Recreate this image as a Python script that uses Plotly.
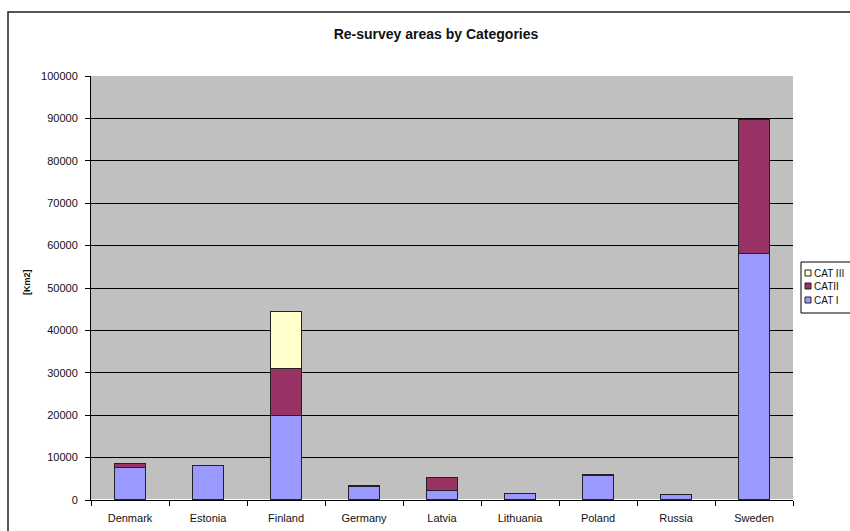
import plotly.graph_objects as go

countries = ["Denmark", "Estonia", "Finland", "Germany", "Latvia", "Lithuania", "Poland", "Russia", "Sweden"]
cat1 = [7600, 8200, 19900, 3300, 2200, 1600, 5900, 1250, 58200]
cat2 = [1100, 0, 11200, 0, 3100, 0, 0, 0, 31600]
cat3 = [0, 0, 13450, 0, 0, 0, 0, 0, 0]
series_names = ["CAT I", "CATII", "CAT III"]
y_ticks = list(range(0, 100001, 10000))

colors = ["#9999FF", "#993366", "#FFFFCC"]
W, H = 850, 531
L, R, T, B = 91, 57, 76, 31
PW, PH = W - L - R, H - T - B


def px(x):
    return (x - L) / PW


def py(y):
    return (H - B - y) / PH


fig = go.Figure()
for name, vals, col in zip(series_names, [cat1, cat2, cat3], colors):
    fig.add_trace(go.Bar(
        x=countries, y=vals, name=name, width=0.4,
        marker=dict(color=col, line=dict(color="#222222", width=1.2)),
    ))

fig.update_layout(
    barmode="stack",
    width=W, height=H,
    margin=dict(l=L, r=R, t=T, b=B),
    paper_bgcolor="white",
    plot_bgcolor="#C0C0C0",
    font=dict(family="Liberation Sans, Arial, sans-serif", size=11, color="#111111"),
    title=dict(text="<b>Re-survey areas by Categories</b>", x=px(436), xanchor="center",
               xref="paper", y=1 - 34 / H, yanchor="middle", yref="container",
               font=dict(size=14, color="#111111")),
    showlegend=False,
)
fig.update_xaxes(
    showline=True, linecolor="black", linewidth=1,
    ticks="outside", tickson="boundaries", ticklen=5, tickcolor="black",
    ticklabelstandoff=8,
    showgrid=False, automargin=False,
)
fig.update_yaxes(
    range=[0, 100000], tickvals=y_ticks, ticktext=[str(v) for v in y_ticks],
    showline=True, linecolor="black", linewidth=1,
    ticks="outside", ticklen=5, tickcolor="black", ticklabelstandoff=5,
    showgrid=True, gridcolor="black", gridwidth=1, automargin=False,
)
fig.add_annotation(text="<b>[Km2]</b>", xref="paper", yref="paper",
                   x=px(27), y=py(282), textangle=-90, showarrow=False,
                   xanchor="center", yanchor="middle",
                   font=dict(size=9, color="#111111"))

# outer chart-area border (right/bottom sides lie outside the picture)
fig.add_shape(type="rect", xref="paper", yref="paper",
              x0=px(8), x1=px(880), y0=py(580), y1=py(12),
              line=dict(color="#222222", width=1.5), layer="below")

# legend box (drawn manually, clipped by the picture edge as in the reference)
fig.add_shape(type="rect", xref="paper", yref="paper",
              x0=px(801), x1=px(880), y0=py(313), y1=py(262),
              line=dict(color="black", width=1), fillcolor="white")
legend_rows = [("CAT III", colors[2], 273), ("CATII", colors[1], 286), ("CAT I", colors[0], 300)]
for label, col, yc in legend_rows:
    fig.add_shape(type="rect", xref="paper", yref="paper",
                  x0=px(805), x1=px(811), y0=py(yc + 3), y1=py(yc - 3),
                  line=dict(color="#222222", width=1), fillcolor=col)
    fig.add_annotation(text=label, xref="paper", yref="paper",
                       x=px(812), y=py(yc), xanchor="left", yanchor="middle",
                       showarrow=False, font=dict(size=10, color="#111111"))

fig.write_html("out.html", config={"displayModeBar": False},
               post_script="document.body.style.margin='0px';")
